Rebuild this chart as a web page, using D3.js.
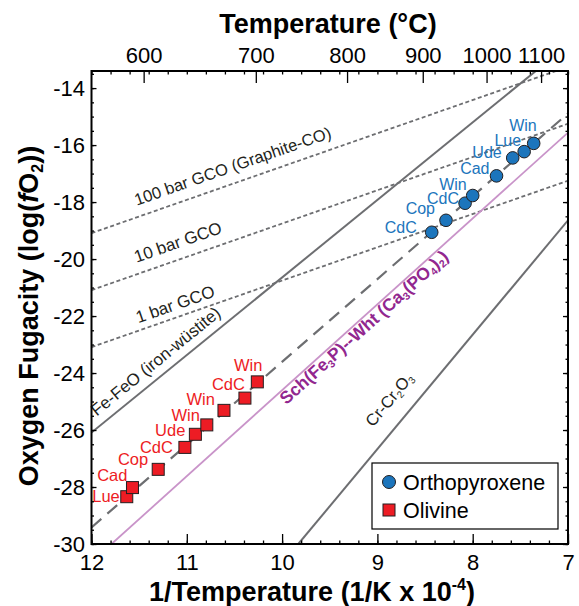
<!DOCTYPE html>
<html>
<head>
<meta charset="utf-8">
<script src="https://cdn.jsdelivr.net/npm/d3@7"></script>
<style>
  body { margin: 0; background: #fff; }
  svg text { font-family: "Liberation Sans", Arial, sans-serif; }
</style>
</head>
<body>
<svg id="chart" width="579" height="606"></svg>
<script>
// axis ticks
var invTTicks = [12, 11, 10, 9, 8, 7];
var fo2Ticks = [-14, -16, -18, -20, -22, -24, -26, -28, -30];
var tempTicks = [600, 700, 800, 900, 1000, 1100];

// orthopyroxene (1/T in 1e4/K, log fO2)
var opxSite = ["CdC", "Cop", "CdC", "Win", "Cad", "Ude", "Lue", "Win"];
var opxInvT = [8.43, 8.28, 8.08, 8.00, 7.75, 7.58, 7.46, 7.36];
var opxFO2 = [-19.06, -18.64, -18.04, -17.77, -17.08, -16.45, -16.23, -15.94];

// olivine
var olSite = ["Lue", "Cad", "Cop", "CdC", "Ude", "Win", "Win", "CdC", "Win"];
var olInvT = [11.63, 11.57, 11.30, 11.02, 10.91, 10.79, 10.61, 10.39, 10.26];
var olFO2 = [-28.34, -28.02, -27.38, -26.61, -26.15, -25.82, -25.31, -24.88, -24.31];

// buffer lines, end points as [1/T, log fO2]
var bufferName = ["100 bar GCO", "10 bar GCO", "1 bar GCO", "Fe-FeO", "fit", "Sch-Wht", "Cr-Cr2O3"];
var bufferFrom = [[12, -19.09], [12, -21.09], [12, -23.09], [12, -26.09], [12, -29.42], [11.79, -30], [9.83, -30]];
var bufferTo = [[7, -13.25], [7, -15.25], [7, -17.25], [7, -12.48], [7, -14.89], [7, -15.56], [7, -18.64]];

// label nudges (px) for site names: [dx of right edge, dy of baseline]
var olNudge = [[-7, 5], [-5, -7], [-10, -4], [-12, 6], [-10, 2], [-7, -4], [-9, -5], [0, -8], [5, -11]];
var opxNudge = [[-15, 1], [-11, -6], [-6, 1], [-6, -6], [-7, -2], [-11, 0], [-3, -6], [3, -12]];

var W = 579, H = 606;
var m = {top: 71, right: 11, bottom: 62, left: 91.5};
var x = d3.scaleLinear().domain([12, 7]).range([m.left, W - m.right]);
var y = d3.scaleLinear().domain([-30, -13.4]).range([H - m.bottom, m.top]);

var svg = d3.select("#chart");
svg.append("defs").append("clipPath").attr("id", "plotclip").append("rect")
    .attr("x", m.left).attr("y", m.top)
    .attr("width", W - m.right - m.left).attr("height", H - m.bottom - m.top);

var grey = "#6d6e71";
var lineStyle = [
    {stroke: grey, w: 1.8, dash: "4,2.6"},
    {stroke: grey, w: 1.8, dash: "4,2.6"},
    {stroke: grey, w: 1.8, dash: "4,2.6"},
    {stroke: grey, w: 2, dash: null},
    {stroke: grey, w: 2.2, dash: "13,8"},
    {stroke: "#c994c9", w: 1.8, dash: null},
    {stroke: grey, w: 2, dash: null}
];

var lineGen = d3.line().x(function (d) { return x(d[0]); }).y(function (d) { return y(d[1]); });

var lines = svg.append("g").attr("clip-path", "url(#plotclip)");
lines.selectAll("path").data(d3.range(bufferName.length)).join("path")
    .attr("d", function (i) { return lineGen([bufferFrom[i], bufferTo[i]]); })
    .attr("fill", "none")
    .attr("stroke", function (i) { return lineStyle[i].stroke; })
    .attr("stroke-width", function (i) { return lineStyle[i].w; })
    .attr("stroke-dasharray", function (i) { return lineStyle[i].dash; });

// label along a buffer line, starting where the line is at 1/T = x0
function lineLabel(i, x0, dy, parts, size, color, weight) {
    var a = bufferFrom[i], b = bufferTo[i];
    var t = (x0 - a[0]) / (b[0] - a[0]);
    var px = x(x0), py = y(a[1] + t * (b[1] - a[1]));
    var ang = Math.atan2(y(b[1]) - y(a[1]), x(b[0]) - x(a[0])) * 180 / Math.PI;
    var txt = svg.append("text")
        .attr("transform", "translate(" + px + "," + py + ") rotate(" + ang + ")")
        .attr("y", dy)
        .attr("font-size", size).attr("fill", color).attr("font-weight", weight || "normal");
    var shift = 0;
    parts.forEach(function (p) {
        var sp = txt.append("tspan").text(p[0]);
        if (p[1]) {
            sp.attr("font-size", size * 0.6).attr("dy", 3 - shift);
            shift = 3;
        } else if (shift) {
            sp.attr("dy", -shift);
            shift = 0;
        }
    });
}

lineLabel(0, 11.488, -11, [["100 bar GCO (Graphite-CO)"]], 16.5, "#231f20");
lineLabel(1, 11.49, -11, [["10 bar GCO"]], 17, "#231f20");
lineLabel(2, 11.485, -7, [["1 bar GCO"]], 17, "#231f20");
lineLabel(3, 11.886, -9, [["Fe-FeO (iron-wüstite)"]], 17, "#231f20");
lineLabel(5, 10.054, 14, [["Sch(Fe"], ["3", 1], ["P)--Wht (Ca"], ["3", 1], ["(PO"], ["4", 1], [")"], ["2", 1], [")"]], 17.5, "#92278f", "bold");
lineLabel(6, 8.909, -17, [["Cr-Cr"], ["2", 1], ["O"], ["3", 1]], 16.5, "#231f20");

// points
var red = "#ed1c24", blue = "#1c75bc";
svg.append("g").selectAll("rect").data(d3.range(olSite.length)).join("rect")
    .attr("x", function (i) { return x(olInvT[i]) - 6; })
    .attr("y", function (i) { return y(olFO2[i]) - 6; })
    .attr("width", 12).attr("height", 12)
    .attr("fill", red).attr("stroke", "#231f20").attr("stroke-width", 1);
svg.append("g").selectAll("circle").data(d3.range(opxSite.length)).join("circle")
    .attr("cx", function (i) { return x(opxInvT[i]); })
    .attr("cy", function (i) { return y(opxFO2[i]); })
    .attr("r", 6.3)
    .attr("fill", blue).attr("stroke", "#231f20").attr("stroke-width", 1);

svg.append("g").attr("font-size", 16.5).attr("fill", red).attr("text-anchor", "end")
    .selectAll("text").data(d3.range(olSite.length)).join("text")
    .attr("x", function (i) { return x(olInvT[i]) + olNudge[i][0]; })
    .attr("y", function (i) { return y(olFO2[i]) + olNudge[i][1]; })
    .text(function (i) { return olSite[i]; });
svg.append("g").attr("font-size", 16).attr("fill", blue).attr("text-anchor", "end")
    .selectAll("text").data(d3.range(opxSite.length)).join("text")
    .attr("x", function (i) { return x(opxInvT[i]) + opxNudge[i][0]; })
    .attr("y", function (i) { return y(opxFO2[i]) + opxNudge[i][1]; })
    .text(function (i) { return opxSite[i]; });

// axes
var minorX = d3.range(35, 61).map(function (d) { return d / 5; });
var minorY = d3.range(-60, -26).map(function (d) { return d / 2; });
var xb = H - m.bottom, xr = W - m.right;

function axis(gen, tr) {
    var g = svg.append("g").attr("transform", tr).call(gen);
    g.select(".domain").remove();
    g.selectAll("line").attr("stroke", "#000").attr("stroke-width", 1.3);
    g.attr("font-size", 22).attr("font-family", null);
    g.selectAll("text").attr("fill", "#000");
    return g;
}
var noLab = function () { return ""; };
var plain = function (d) { return String(d); };

axis(d3.axisBottom(x).tickValues(minorX).tickSize(-3.5).tickFormat(noLab), "translate(0," + xb + ")");
axis(d3.axisBottom(x).tickValues(invTTicks).tickSize(-10).tickPadding(10).tickFormat(plain), "translate(0," + xb + ")");
axis(d3.axisTop(x).tickValues(minorX).tickSize(-3.5).tickFormat(noLab), "translate(0," + m.top + ")");
axis(d3.axisTop(x).tickValues(tempTicks.map(function (c) { return 1e4 / (c + 273.15); }))
    .tickSize(-12).tickPadding(8).tickFormat(function (d, i) { return tempTicks[i]; }), "translate(0," + m.top + ")");
axis(d3.axisLeft(y).tickValues(minorY).tickSize(-2.5).tickFormat(noLab), "translate(" + m.left + ",0)");
axis(d3.axisLeft(y).tickValues(fo2Ticks).tickSize(-5).tickPadding(6.5).tickFormat(plain), "translate(" + m.left + ",0)");
axis(d3.axisRight(y).tickValues(minorY).tickSize(-2.5).tickFormat(noLab), "translate(" + xr + ",0)");
axis(d3.axisRight(y).tickValues(fo2Ticks).tickSize(-5).tickFormat(noLab), "translate(" + xr + ",0)");

svg.append("rect").attr("x", m.left).attr("y", m.top)
    .attr("width", xr - m.left).attr("height", xb - m.top)
    .attr("fill", "none").attr("stroke", "#000").attr("stroke-width", 2);

// legend
var lg = svg.append("g").attr("transform", "translate(372,463)");
lg.append("rect").attr("width", 186).attr("height", 66)
    .attr("fill", "#fff").attr("stroke", "#000").attr("stroke-width", 1.2);
lg.append("circle").attr("cx", 17).attr("cy", 19).attr("r", 6.5)
    .attr("fill", blue).attr("stroke", "#231f20");
lg.append("rect").attr("x", 11).attr("y", 41).attr("width", 12).attr("height", 12)
    .attr("fill", red).attr("stroke", "#231f20");
lg.append("text").attr("x", 31).attr("y", 19).attr("dy", "0.35em").attr("font-size", 21.5).text("Orthopyroxene");
lg.append("text").attr("x", 31).attr("y", 47).attr("dy", "0.35em").attr("font-size", 21.5).text("Olivine");

// axis titles
svg.append("text").attr("x", 328).attr("y", 33)
    .attr("text-anchor", "middle").attr("font-weight", "bold").attr("font-size", 27)
    .text("Temperature (°C)");

var bt = svg.append("text").attr("x", 312).attr("y", 601)
    .attr("text-anchor", "middle").attr("font-weight", "bold").attr("font-size", 27);
bt.append("tspan").text("1/Temperature (1/K x 10");
bt.append("tspan").attr("dy", -11).attr("font-size", 16).text("-4");
bt.append("tspan").attr("dy", 11).text(")");

var lt = svg.append("text").attr("transform", "translate(38,316) rotate(-90)")
    .attr("text-anchor", "middle").attr("font-weight", "bold").attr("font-size", 27);
lt.append("tspan").text("Oxygen Fugacity (log(");
lt.append("tspan").attr("font-style", "italic").text("f");
lt.append("tspan").text("O");
lt.append("tspan").attr("dy", 5).attr("font-size", 16).text("2");
lt.append("tspan").attr("dy", -5).text("))");
</script>
</body>
</html>
